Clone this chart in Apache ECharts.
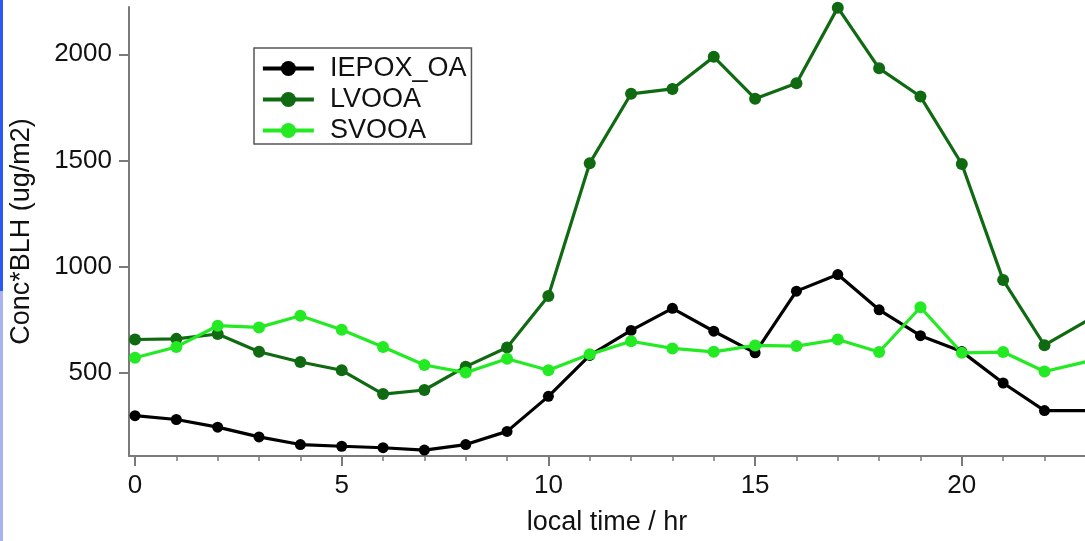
<!DOCTYPE html>
<html>
<head>
<meta charset="utf-8">
<script src="https://cdn.jsdelivr.net/npm/echarts@6/dist/echarts.min.js"></script>
<style>
  html, body { margin: 0; padding: 0; background: #ffffff; }
  #chart { width: 1085px; height: 541px; }
</style>
</head>
<body>
<div id="chart"></div>
<script>
// Diurnal profile of column burden (concentration × boundary layer height)
const hours = [0, 1, 2, 3, 4, 5, 6, 7, 8, 9, 10, 11, 12, 13, 14, 15, 16, 17, 18, 19, 20, 21, 22, 23];

const iepoxOA = [297, 279, 243, 197, 161, 153, 146, 135, 161, 223, 388, 581,
                 699, 803, 695, 593, 884, 962, 796, 674, 599, 451, 321, 321];
const lvooa   = [656, 659, 682, 598, 550, 511, 399, 418, 528, 618, 861, 1487,
                 1814, 1837, 1988, 1791, 1864, 2220, 1934, 1801, 1483, 936, 629, 741];
const svooa   = [570, 621, 721, 713, 768, 702, 621, 536, 500, 565, 511, 586,
                 648, 614, 598, 628, 625, 656, 597, 808, 593, 597, 505, 551];

const xMajorTicks = [0, 5, 10, 15, 20];
const xMinorTicks = [0, 1, 2, 3, 4, 5, 6, 7, 8, 9, 10, 11, 12, 13, 14, 15, 16, 17, 18, 19, 20, 21, 22, 23];
const yTicks = [500, 1000, 1500, 2000];

const FONT = '"Liberation Sans", Arial, sans-serif';
const AXIS_GRAY = '#7a7a7a';

function pairs(values) {
  return hours.map((h, i) => [h, values[i]]);
}

function lineSeries(name, values, color, symbolSize) {
  return {
    name: name,
    type: 'line',
    data: pairs(values),
    xAxisIndex: 0,
    symbol: 'circle',
    symbolSize: symbolSize,
    showSymbol: true,
    lineStyle: { color: color, width: 3.2 },
    itemStyle: { color: color },
    emphasis: { disabled: true },
    animation: false
  };
}

const chart = echarts.init(document.getElementById('chart'), null, { renderer: 'canvas' });

chart.setOption({
  backgroundColor: '#ffffff',
  animation: false,
  textStyle: { fontFamily: FONT, color: '#111' },
  grid: { left: 129, top: 7, right: 0, bottom: 80, containLabel: false },
  legend: {
    left: 254,
    top: 48,
    orient: 'vertical',
    data: ['IEPOX_OA', 'LVOOA', 'SVOOA'],
    itemWidth: 51,
    itemHeight: 19,
    itemGap: 4,
    padding: [7, 5, 0, 7],
    borderColor: '#555',
    borderWidth: 1.5,
    backgroundColor: '#ffffff',
    selectedMode: false,
    lineStyle: { width: 3.8 },
    textStyle: {
      fontFamily: FONT,
      fontSize: 27,
      color: '#111',
      padding: [0, 0, 0, 11]
    }
  },
  xAxis: [
    {
      type: 'value',
      min: -0.145,
      max: 22.98,
      name: 'local time / hr',
      nameLocation: 'middle',
      nameGap: 53,
      nameMoveOverlap: false,
      nameTextStyle: { fontFamily: FONT, fontSize: 27, color: '#111' },
      splitLine: { show: false },
      axisLine: { show: true, onZero: false, lineStyle: { color: AXIS_GRAY, width: 2 } },
      axisTick: {
        show: true, inside: false, length: 10,
        customValues: xMajorTicks,
        lineStyle: { color: AXIS_GRAY, width: 2 }
      },
      axisLabel: {
        show: true, margin: 17,
        customValues: xMajorTicks,
        formatter: (v) => String(v),
        fontFamily: FONT, fontSize: 26, color: '#111'
      }
    },
    {
      // hourly minor ticks along the bottom axis
      type: 'value',
      min: -0.145,
      max: 22.98,
      position: 'bottom',
      splitLine: { show: false },
      axisLine: { show: false },
      axisLabel: { show: false },
      axisTick: {
        show: true, inside: false, length: 5,
        customValues: xMinorTicks,
        lineStyle: { color: AXIS_GRAY, width: 1.5 }
      }
    }
  ],
  yAxis: {
    type: 'value',
    min: 107,
    max: 2223,
    name: 'Conc*BLH (ug/m2)',
    nameLocation: 'middle',
    nameRotate: 90,
    nameGap: 94,
    nameMoveOverlap: false,
    nameTextStyle: { fontFamily: FONT, fontSize: 27, color: '#111' },
    splitLine: { show: false },
    axisLine: { show: true, onZero: false, lineStyle: { color: AXIS_GRAY, width: 2 } },
    axisTick: {
      show: true, inside: false, length: 10,
      customValues: yTicks,
      lineStyle: { color: AXIS_GRAY, width: 2 }
    },
    axisLabel: {
      show: true, margin: 17,
      customValues: yTicks,
      formatter: (v) => String(v),
      fontFamily: FONT, fontSize: 26, color: '#111'
    }
  },
  graphic: [
    { type: 'rect', left: 0, top: 0, shape: { x: 0, y: 0, width: 3, height: 291 }, style: { fill: '#2a58f2' }, silent: true },
    { type: 'rect', left: 0, top: 291, shape: { x: 0, y: 0, width: 3, height: 250 }, style: { fill: '#aab2f2' }, silent: true }
  ],
  series: [
    lineSeries('IEPOX_OA', iepoxOA, '#000000', 11),
    lineSeries('LVOOA', lvooa, '#0f6a12', 12),
    lineSeries('SVOOA', svooa, '#24ea24', 12)
  ]
});
</script>
</body>
</html>
